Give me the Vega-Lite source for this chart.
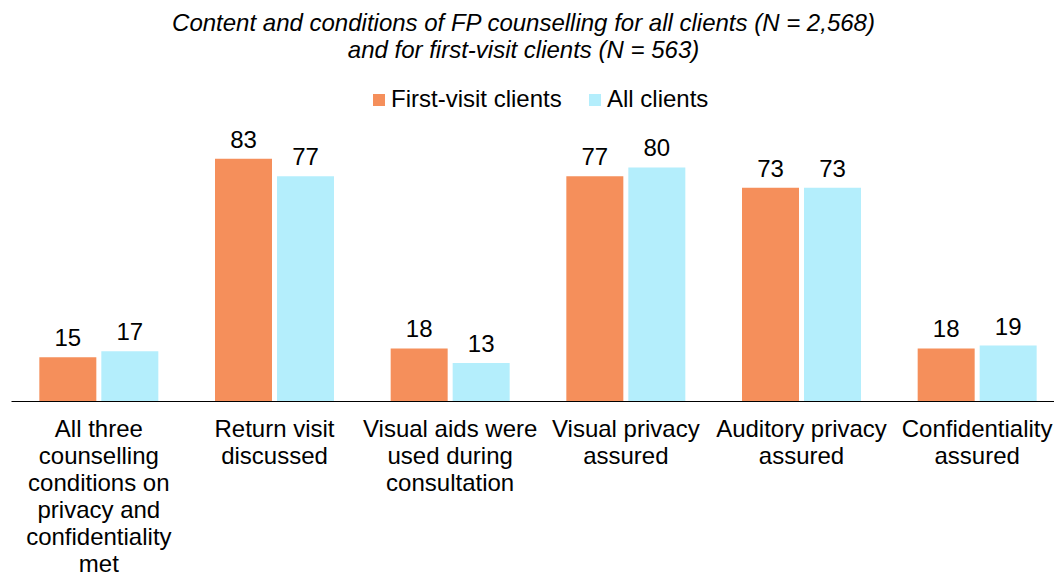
{
  "$schema": "https://vega.github.io/schema/vega-lite/v6.json",
  "width": 1043,
  "height": 292,
  "autosize": {"type": "none"},
  "padding": {"left": 11, "top": 109, "right": 0, "bottom": 174},
  "background": "white",
  "config": {
    "view": {"stroke": null},
    "font": "Liberation Sans",
    "text": {"font": "Liberation Sans"}
  },
  "title": {
    "text": ["Content and conditions of FP counselling for all clients (N = 2,568)", "and for first-visit clients (N = 563)"],
    "font": "Liberation Sans",
    "fontStyle": "italic",
    "fontWeight": "normal",
    "fontSize": 24,
    "lineHeight": 27,
    "color": "#000000",
    "anchor": "middle",
    "frame": "group",
    "dx": -9,
    "offset": 25
  },
  "data": {
    "values": [
      {"condition": "All three|counselling|conditions on|privacy and|confidentiality|met", "group": "First-visit clients", "value": 15},
      {"condition": "All three|counselling|conditions on|privacy and|confidentiality|met", "group": "All clients", "value": 17},
      {"condition": "Return visit|discussed", "group": "First-visit clients", "value": 83},
      {"condition": "Return visit|discussed", "group": "All clients", "value": 77},
      {"condition": "Visual aids were|used during|consultation", "group": "First-visit clients", "value": 18},
      {"condition": "Visual aids were|used during|consultation", "group": "All clients", "value": 13},
      {"condition": "Visual privacy|assured", "group": "First-visit clients", "value": 77},
      {"condition": "Visual privacy|assured", "group": "All clients", "value": 80},
      {"condition": "Auditory privacy|assured", "group": "First-visit clients", "value": 73},
      {"condition": "Auditory privacy|assured", "group": "All clients", "value": 73},
      {"condition": "Confidentiality|assured", "group": "First-visit clients", "value": 18},
      {"condition": "Confidentiality|assured", "group": "All clients", "value": 19}
    ]
  },
  "encoding": {
    "x": {
      "field": "condition",
      "type": "nominal",
      "sort": null,
      "scale": {"range": [0, 1054], "paddingInner": 0.3226, "paddingOuter": 0.1613},
      "axis": {
        "title": null,
        "labelAngle": 0,
        "labelExpr": "split(datum.label, '|')",
        "labelFont": "Liberation Sans",
        "labelFontSize": 24,
        "labelLineHeight": 27,
        "labelColor": "#000000",
        "labelPadding": 16,
        "labelBaseline": "top",
        "labelLimit": 0,
        "ticks": false,
        "domainColor": "#000000",
        "domainWidth": 1,
        "grid": false
      }
    },
    "xOffset": {
      "field": "group",
      "type": "nominal",
      "sort": ["First-visit clients", "All clients"],
      "scale": {"domain": ["First-visit clients", "All clients"], "paddingInner": 0.0806, "paddingOuter": 0}
    },
    "y": {
      "field": "value",
      "type": "quantitative",
      "scale": {"domain": [0, 100], "nice": false},
      "axis": null
    }
  },
  "layer": [
    {
      "mark": {"type": "bar"},
      "encoding": {
        "color": {
          "field": "group",
          "type": "nominal",
          "scale": {"domain": ["First-visit clients", "All clients"], "range": ["#F58F5B", "#B4EEFC"]},
          "legend": {
            "title": null,
            "orient": "none",
            "direction": "horizontal",
            "legendX": 356,
            "legendY": -21,
            "padding": 0,
            "symbolType": "square",
            "symbolSize": 144,
            "symbolStrokeWidth": 0,
            "labelFont": "Liberation Sans",
            "labelFontSize": 24,
            "labelColor": "#000000",
            "labelOffset": 0,
            "columnPadding": 21,
            "labelLimit": 0
          }
        }
      }
    },
    {
      "mark": {"type": "text", "baseline": "alphabetic", "dy": -11, "fontSize": 24, "font": "Liberation Sans", "color": "#000000"},
      "encoding": {"text": {"field": "value", "type": "quantitative"}}
    }
  ]
}
